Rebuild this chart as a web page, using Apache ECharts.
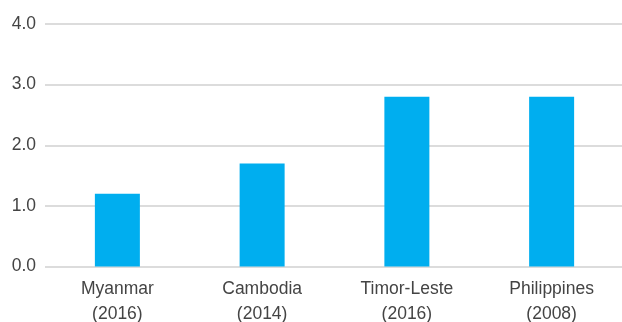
<!DOCTYPE html>
<html>
<head>
<meta charset="utf-8">
<script src="https://cdn.jsdelivr.net/npm/echarts@6/dist/echarts.min.js"></script>
<style>
  html, body { margin: 0; padding: 0; background: #fff; }
  #chart { width: 622px; height: 322px; }
</style>
</head>
<body>
<div id="chart"></div>
<script>
// Countries with survey year shown beneath the name
const countries = ['Myanmar', 'Cambodia', 'Timor-Leste', 'Philippines'];
const surveyYears = ['2016', '2014', '2016', '2008'];
const values = [1.2, 1.7, 2.8, 2.8];
const yTicks = [0, 1, 2, 3, 4];

const categories = countries.map((c, i) => c + '\n(' + surveyYears[i] + ')');

const chart = echarts.init(document.getElementById('chart'), null, { renderer: 'canvas' });
const textColor = '#444444';
const fontFamily = '"Liberation Sans", Arial, sans-serif';

chart.setOption({
  animation: false,
  grid: {
    left: 45, top: 24, width: 579, height: 242.5,
    containLabel: false,
    outerBoundsMode: 'none'
  },
  xAxis: {
    type: 'category',
    data: categories,
    axisLine: { show: false },
    axisTick: { show: false },
    axisLabel: {
      color: textColor,
      fontSize: 17.5,
      fontFamily: fontFamily,
      lineHeight: 25,
      margin: 10
    }
  },
  yAxis: {
    type: 'value',
    min: yTicks[0],
    max: yTicks[yTicks.length - 1],
    interval: 1,
    axisLine: { show: false },
    axisTick: { show: false },
    splitLine: { lineStyle: { color: '#dcdcdc', width: 2 } },
    axisLabel: {
      color: textColor,
      fontSize: 17.5,
      fontFamily: fontFamily,
      margin: 9,
      formatter: v => v.toFixed(1)
    }
  },
  series: [{
    type: 'bar',
    data: values,
    barWidth: 45,
    itemStyle: { color: '#00AEEF' }
  }]
});
</script>
</body>
</html>
